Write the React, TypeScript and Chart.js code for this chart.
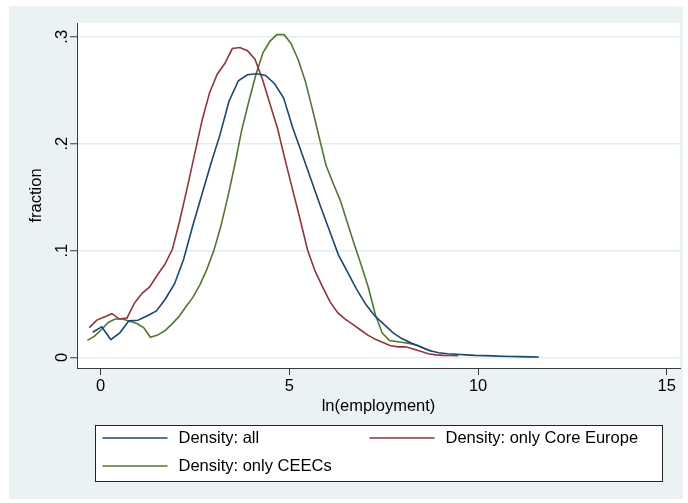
import React, { useEffect, useRef } from "react";
import { Chart, registerables } from "chart.js";

Chart.register(...registerables);

const FONT = '"Liberation Sans", Arial, Helvetica, sans-serif';

// Density: all
const allX = [-0.21, 0.03, 0.27, 0.51, 0.75, 0.99, 1.24, 1.48, 1.72, 1.96, 2.2, 2.44, 2.68, 2.92, 3.16, 3.4, 3.65, 3.89, 4.13, 4.37, 4.61, 4.85, 5.09, 5.33, 5.58, 5.82, 6.06, 6.3, 6.54, 6.78, 7.02, 7.26, 7.51, 7.75, 7.99, 8.23, 8.47, 8.71, 8.95, 9.19, 9.44, 9.68, 9.92, 10.16, 10.4, 10.64, 10.88, 11.12, 11.37, 11.61];
const allY = [0.0236, 0.0287, 0.0168, 0.0231, 0.0343, 0.0349, 0.039, 0.0436, 0.055, 0.069, 0.092, 0.123, 0.152, 0.181, 0.208, 0.2395, 0.2589, 0.2645, 0.2654, 0.2638, 0.2561, 0.2427, 0.215, 0.191, 0.166, 0.142, 0.119, 0.096, 0.08, 0.064, 0.05, 0.039, 0.031, 0.023, 0.0175, 0.0135, 0.01, 0.0065, 0.0045, 0.0035, 0.003, 0.0025, 0.002, 0.0018, 0.0015, 0.0012, 0.001, 0.0008, 0.0006, 0.0005];

// Density: only Core Europe
const coreX = [-0.3, -0.1, 0.1, 0.3, 0.5, 0.7, 0.9, 1.1, 1.3, 1.5, 1.7, 1.9, 2.09, 2.29, 2.49, 2.69, 2.89, 3.09, 3.29, 3.49, 3.69, 3.89, 4.09, 4.29, 4.49, 4.69, 4.88, 5.08, 5.28, 5.48, 5.68, 5.88, 6.08, 6.28, 6.48, 6.68, 6.88, 7.08, 7.28, 7.48, 7.68, 7.88, 8.08, 8.28, 8.48, 8.68, 8.88, 9.08, 9.28, 9.48];
const coreY = [0.028, 0.035, 0.038, 0.041, 0.036, 0.037, 0.051, 0.06, 0.066, 0.077, 0.087, 0.101, 0.127, 0.158, 0.19, 0.222, 0.248, 0.265, 0.275, 0.289, 0.29, 0.287, 0.279, 0.26, 0.237, 0.214, 0.186, 0.158, 0.13, 0.101, 0.081, 0.066, 0.052, 0.042, 0.036, 0.031, 0.026, 0.021, 0.017, 0.014, 0.011, 0.01, 0.01, 0.008, 0.0058, 0.0035, 0.0025, 0.002, 0.0019, 0.0018];

// Density: only CEECs
const ceecX = [-0.35, -0.16, 0.02, 0.21, 0.39, 0.58, 0.77, 0.95, 1.14, 1.32, 1.51, 1.7, 1.88, 2.07, 2.25, 2.44, 2.63, 2.81, 3.0, 3.18, 3.37, 3.56, 3.74, 3.93, 4.11, 4.3, 4.49, 4.67, 4.86, 5.04, 5.23, 5.42, 5.6, 5.79, 5.97, 6.16, 6.35, 6.53, 6.72, 6.9, 7.09, 7.28, 7.46, 7.65, 7.83, 8.02, 8.21, 8.39, 8.58, 8.77];
const ceecY = [0.016, 0.02, 0.026, 0.033, 0.036, 0.036, 0.034, 0.032, 0.028, 0.019, 0.021, 0.025, 0.031, 0.038, 0.047, 0.056, 0.068, 0.082, 0.1, 0.122, 0.15, 0.181, 0.213, 0.24, 0.264, 0.285, 0.296, 0.302, 0.302, 0.294, 0.279, 0.259, 0.234, 0.206, 0.18, 0.163, 0.147, 0.127, 0.106, 0.087, 0.066, 0.04, 0.023, 0.016, 0.015, 0.014, 0.013, 0.0115, 0.0085, 0.0059];

const seriesLabels = ["Density: all", "Density: only Core Europe", "Density: only CEECs"];
const seriesColors = ["#1a476f", "#90353b", "#55752f"];

const xTicks = [0, 5, 10, 15];
const xTickLabels = ["0", "5", "10", "15"];
const yTicks = [0, 0.1, 0.2, 0.3];
const yTickLabels = ["0", ".1", ".2", ".3"];

const xTitle = "ln(employment)";
const yTitle = "fraction";

const BG = "#eaf2f3";
const AXIS = "#3c3c3c";

const toPoints = (xs: number[], ys: number[]) => xs.map((x, i) => ({ x, y: ys[i] }));

const bgPlugin = {
  id: "stataBg",
  beforeDraw(chart: any) {
    const { ctx, chartArea } = chart;
    ctx.save();
    ctx.fillStyle = "#ffffff";
    ctx.fillRect(0, 0, chart.width, chart.height);
    ctx.fillStyle = BG;
    ctx.fillRect(9, 6, 674, 493);
    ctx.fillStyle = "#ffffff";
    ctx.fillRect(chartArea.left, chartArea.top, chartArea.right - chartArea.left, chartArea.bottom - chartArea.top);
    ctx.restore();
  },
};

const legendPlugin = {
  id: "stataLegend",
  afterDraw(chart: any) {
    const { ctx, chartArea } = chart;
    const cx = (chartArea.left + chartArea.right) / 2;
    const w = 567;
    const h = 56;
    const left = Math.round(cx - w / 2) + 0.5;
    const top = chartArea.bottom + 57.5;
    ctx.save();
    ctx.fillStyle = "#ffffff";
    ctx.fillRect(left, top, w, h);
    ctx.strokeStyle = "#222222";
    ctx.lineWidth = 1;
    ctx.strokeRect(left, top, w, h);
    const cols = [left + 7, left + 274];
    const rows = [top + 12.5, top + 40.5];
    ctx.font = `16.5px ${FONT}`;
    ctx.textBaseline = "middle";
    ctx.textAlign = "left";
    chart.data.datasets.forEach((ds: any, i: number) => {
      const col = cols[i % 2];
      const row = rows[Math.floor(i / 2)];
      ctx.strokeStyle = ds.borderColor;
      ctx.lineWidth = 1.6;
      ctx.beginPath();
      ctx.moveTo(col, row);
      ctx.lineTo(col + 65, row);
      ctx.stroke();
      ctx.fillStyle = "#000000";
      ctx.fillText(ds.label, col + 76, row + 0.5);
    });
    ctx.restore();
  },
};

export default function App() {
  const ref = useRef<HTMLCanvasElement | null>(null);

  useEffect(() => {
    document.body.style.margin = "0";
    const canvas = ref.current;
    if (!canvas) return;
    const datasets = [
      [allX, allY],
      [coreX, coreY],
      [ceecX, ceecY],
    ].map(([xs, ys], i) => ({
      label: seriesLabels[i],
      data: toPoints(xs, ys),
      borderColor: seriesColors[i],
      backgroundColor: seriesColors[i],
      borderWidth: 1.6,
      pointRadius: 0,
      showLine: true,
      tension: 0,
      fill: false,
    }));

    const chart = new Chart(canvas, {
      type: "scatter",
      data: { datasets },
      plugins: [bgPlugin, legendPlugin],
      options: {
        animation: false,
        responsive: false,
        devicePixelRatio: 1,
        layout: { padding: { left: 8, top: 23, right: 8, bottom: 85 } },
        plugins: {
          legend: { display: false },
          tooltip: { enabled: false },
        },
        scales: {
          x: {
            type: "linear",
            min: -0.625,
            max: 15.35,
            afterBuildTicks: (s: any) => {
              s.ticks = xTicks.map((v) => ({ value: v }));
            },
            afterFit: (s: any) => {
              s.height = 50;
            },
            grid: {
              drawOnChartArea: false,
              drawTicks: true,
              tickLength: 7,
              tickColor: AXIS,
              tickWidth: 1,
            },
            border: { display: true, color: AXIS, width: 1 },
            ticks: {
              autoSkip: false,
              maxRotation: 0,
              padding: 2,
              color: "#000",
              font: { family: FONT, size: 16.5 },
              callback: (v: any) => {
                const i = xTicks.indexOf(Number(v));
                return i >= 0 ? xTickLabels[i] : "";
              },
            },
            title: {
              display: true,
              text: xTitle,
              color: "#000",
              font: { family: FONT, size: 16.5 },
              padding: { top: 0, bottom: 2 },
            },
          },
          y: {
            type: "linear",
            min: -0.0098,
            max: 0.3129,
            afterBuildTicks: (s: any) => {
              s.ticks = yTicks.map((v) => ({ value: v }));
            },
            afterFit: (s: any) => {
              s.width = 69;
            },
            grid: {
              drawOnChartArea: true,
              drawTicks: true,
              tickLength: 7,
              color: "#e3ecee",
              lineWidth: 1.5,
              tickColor: AXIS,
              tickWidth: 1,
            },
            border: { display: true, color: AXIS, width: 1 },
            ticks: {
              autoSkip: false,
              minRotation: 90,
              maxRotation: 90,
              crossAlign: "center",
              padding: 1,
              color: "#000",
              font: { family: FONT, size: 16.5 },
              callback: (v: any) => {
                const i = yTicks.findIndex((t) => Math.abs(t - Number(v)) < 1e-9);
                return i >= 0 ? yTickLabels[i] : "";
              },
            },
            title: {
              display: true,
              text: yTitle,
              color: "#000",
              font: { family: FONT, size: 16.5 },
              padding: { top: 19, bottom: 0 },
            },
          },
        },
      } as any,
    });
    return () => chart.destroy();
  }, []);

  return <canvas ref={ref} width={688} height={503} style={{ display: "block" }} />;
}
